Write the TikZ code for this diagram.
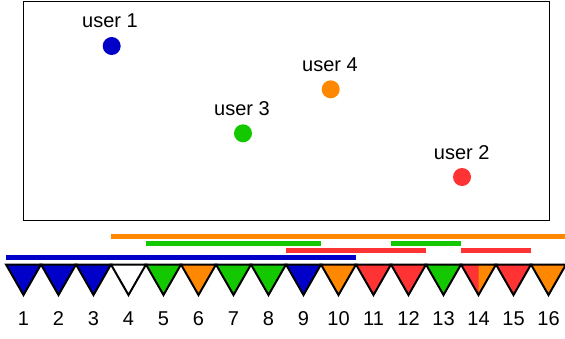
\documentclass[tikz,border=0pt]{standalone}
\usepackage{fontspec}
\setmainfont{Liberation Sans}
\definecolor{ublue}{RGB}{0,0,200}
\definecolor{ugreen}{RGB}{20,200,0}
\definecolor{uorange}{RGB}{255,136,0}
\definecolor{ured}{RGB}{255,51,51}
\begin{document}
\begin{tikzpicture}[x=1pt,y=-1pt,
  dot/.style={circle,inner sep=0pt,minimum size=18pt,draw=none},
  lbl/.style={inner sep=0pt,font=\fontsize{20}{22}\selectfont},
  num/.style={inner sep=0pt,font=\fontsize{20}{22}\selectfont},
  tri/.style={draw=black,line width=2pt,line join=miter},
  bar/.style={line width=4.5pt,line cap=butt}]
\useasboundingbox (0,0) rectangle (565,338);
\fill[white] (0,0) rectangle (565,338);
% frame
\draw[line width=1.5pt] (23.7,1.7) rectangle (549.3,220.7);
% users
\node[dot,fill=ublue] (u1) at (111.7,46) {};
\node[dot,fill=ured] (u2) at (462,177) {};
\node[dot,fill=ugreen] (u3) at (243,133.3) {};
\node[dot,fill=uorange] (u4) at (330.7,89.3) {};
\node[lbl] (l1) at (110,20.7) {user 1};
\node[lbl] (l2) at (461.7,152.3) {user 2};
\node[lbl] (l3) at (242,108.7) {user 3};
\node[lbl] (l4) at (330,64.3) {user 4};
% bars
\draw[bar,uorange] (111,236.7) -- (566,236.7);
\draw[bar,ugreen] (146,243.7) -- (321,243.7);
\draw[bar,ugreen] (391,243.7) -- (461,243.7);
\draw[bar,ured] (286,250.7) -- (426,250.7);
\draw[bar,ured] (461,250.7) -- (531,250.7);
\draw[bar,ublue] (6,257.7) -- (356,257.7);
% triangles
\foreach \i/\c in {1/ublue,2/ublue,3/ublue,4/white,5/ugreen,6/uorange,7/ugreen,8/ugreen,9/ublue,10/uorange,11/ured,12/ured,13/ugreen,15/ured,16/uorange}{
  \filldraw[tri,fill=\c] ({6+35*(\i-1)},264.5) -- ({6+35*\i},264.5) -- ({6+35*(\i-0.5)},295) -- cycle;
}
\fill[uorange] ({6+35*13},264.5) -- ({6+35*14},264.5) -- ({6+35*13.5},295) -- cycle;
\fill[ured] ({6+35*13},264.5) -- ({6+35*13.5},264.5) -- ({6+35*13.5},295) -- cycle;
\draw[tri] ({6+35*13},264.5) -- ({6+35*14},264.5) -- ({6+35*13.5},295) -- cycle;
% numbers
\foreach \i in {1,...,16}{
  \node[num] (n\i) at ({6+35*(\i-0.5)},319) {\i};
}
\end{tikzpicture}
\end{document}
